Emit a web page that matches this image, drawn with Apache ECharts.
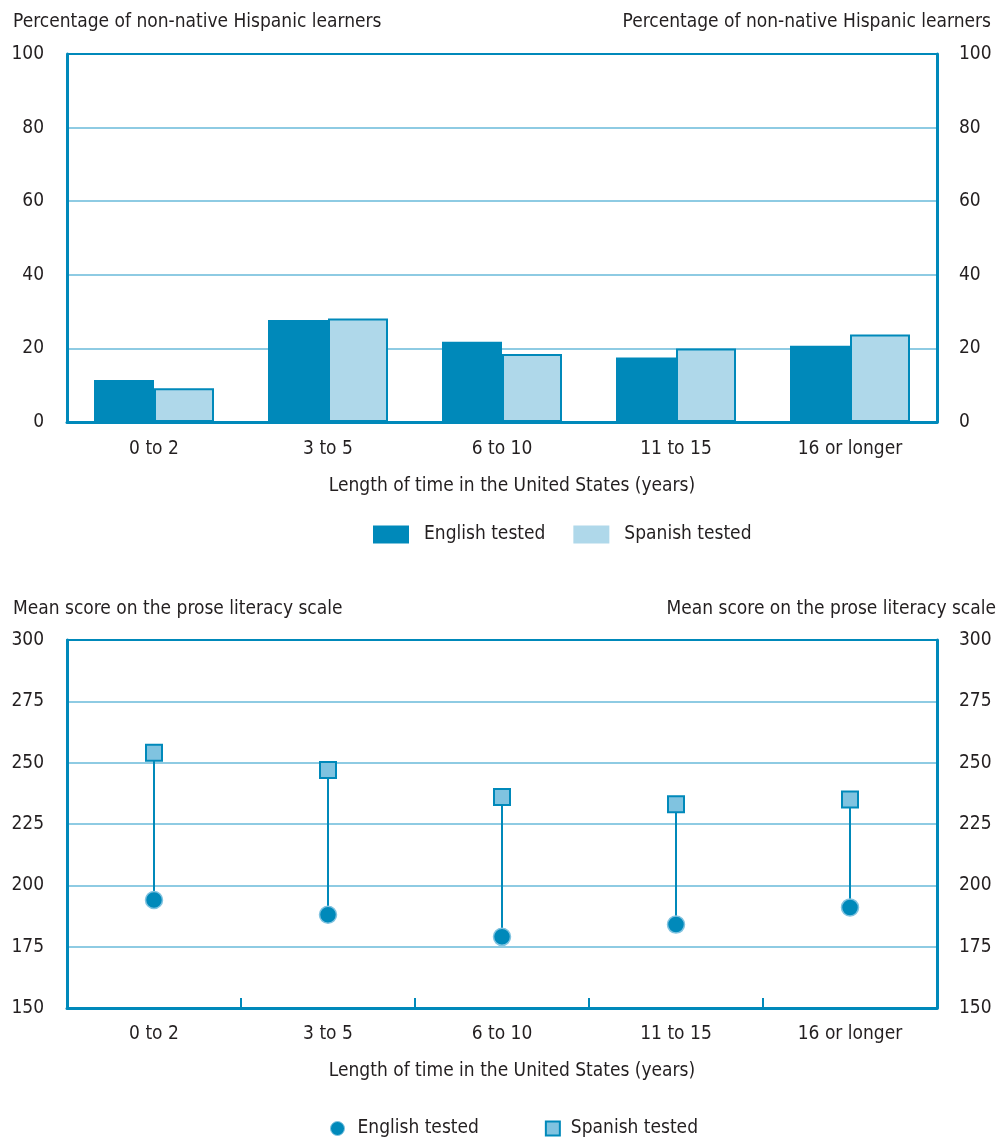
<!DOCTYPE html>
<html><head><meta charset="utf-8">
<script src="https://cdn.jsdelivr.net/npm/echarts@6/dist/echarts.min.js"></script>
<style>html,body{margin:0;padding:0;background:#fff}#c{width:1006px;height:1139px}</style>
</head><body><div id="c"></div>
<script>
var categories = ['0 to 2', '3 to 5', '6 to 10', '11 to 15', '16 or longer'];
var pctEnglish = [11.4, 27.7, 21.8, 17.5, 20.7];
var pctSpanish = [9.2, 28.1, 18.5, 20.0, 23.8];
var scoreEnglish = [194, 188, 179, 184, 191];
var scoreSpanish = [254, 247, 236, 233, 235];
var pctTicks = {min: 0, max: 100, interval: 20};
var scoreTicks = {min: 150, max: 300, interval: 25};

var DARK = '#0089BA', LIGHT = '#AFD8EA', SQ = '#80C3E0', GRIDC = '#8ECBE3', TXT = '#231F20';
var FONT = "'Liberation Sans Narrow','DejaVu Sans Condensed',sans-serif";
var FS = 19;

function yAx(grid, pos, t) {
  var n = Math.round((t.max - t.min) / t.interval) + 1;
  var cols = [];
  for (var i = 0; i < n; i++) cols.push(i === n - 1 ? DARK : GRIDC);
  return {type: 'value', gridIndex: grid, position: pos, min: t.min, max: t.max, interval: t.interval,
    axisLine: {show: true, lineStyle: {color: DARK, width: 3}}, axisTick: {show: false},
    axisLabel: {color: TXT, fontSize: FS, fontFamily: FONT, margin: pos === 'left' ? 23 : 22},
    splitLine: {show: pos === 'left', lineStyle: {color: cols, width: 2}}};
}
function xAx(grid, ticks, gap, margin) {
  return {type: 'category', gridIndex: grid, data: categories, boundaryGap: true,
    axisLine: {show: true, onZero: false, lineStyle: {color: DARK, width: 3}},
    axisTick: {show: ticks, inside: true, length: 10, lineStyle: {color: DARK, width: 2}},
    axisLabel: {color: TXT, fontSize: FS, fontFamily: FONT, margin: margin},
    name: 'Length of time in the United States (years)', nameLocation: 'middle', nameGap: gap,
    nameTextStyle: {color: TXT, fontSize: FS, fontFamily: FONT, padding: [0, 0, 0, 20]}};
}
function topAx(grid) {
  return {type: 'category', gridIndex: grid, position: 'top', data: categories, z: 10,
    axisLine: {show: true, lineStyle: {color: DARK, width: 2}}, axisTick: {show: false}, axisLabel: {show: false}};
}

var opt = {
  animation: false,
  textStyle: {fontFamily: FONT},
  title: [
    {text: 'Percentage of non-native Hispanic learners', left: 8, top: 8, textStyle: {color: TXT, fontSize: FS, fontWeight: 'normal', fontFamily: FONT}},
    {text: 'Percentage of non-native Hispanic learners', right: 10, top: 8, textStyle: {color: TXT, fontSize: FS, fontWeight: 'normal', fontFamily: FONT}},
    {text: 'Mean score on the prose literacy scale', left: 8, top: 595, textStyle: {color: TXT, fontSize: FS, fontWeight: 'normal', fontFamily: FONT}},
    {text: 'Mean score on the prose literacy scale', right: 5, top: 595, textStyle: {color: TXT, fontSize: FS, fontWeight: 'normal', fontFamily: FONT}}
  ],
  grid: [
    {left: 67, width: 870, top: 54, height: 368},
    {left: 67, width: 870, top: 640, height: 368}
  ],
  xAxis: [xAx(0, false, 55, 18), xAx(1, true, 54, 17), topAx(0), topAx(1)],
  yAxis: [yAx(0, 'left', pctTicks), yAx(0, 'right', pctTicks), yAx(1, 'left', scoreTicks), yAx(1, 'right', scoreTicks)],
  legend: [
    {left: 368, top: 520, itemWidth: 36, itemHeight: 18, itemGap: 28,
      textStyle: {color: TXT, fontSize: FS, fontFamily: FONT, padding: [0, 0, 0, 10]},
      data: [{name: 'English tested', icon: 'rect', itemStyle: {color: DARK, borderWidth: 0}},
             {name: 'Spanish tested', icon: 'rect', itemStyle: {color: LIGHT, borderWidth: 0}}]},
    {left: 325, top: 1114, itemWidth: 14, itemHeight: 14, itemGap: 66,
      textStyle: {color: TXT, fontSize: FS, fontFamily: FONT, padding: [0, 0, 0, 8]},
      data: [{name: 'English tested', icon: 'circle', itemStyle: {color: DARK, borderColor: SQ, borderWidth: 1}},
             {name: 'Spanish tested', icon: 'rect', itemStyle: {color: SQ, borderColor: DARK, borderWidth: 2}, textStyle: {padding: [0, 0, 0, 6]}}]}
  ],
  series: [
    {name: 'English tested', type: 'bar', xAxisIndex: 0, yAxisIndex: 0, data: pctEnglish, barWidth: 60, barGap: '0%',
      itemStyle: {color: DARK}},
    {name: 'Spanish tested', type: 'bar', xAxisIndex: 0, yAxisIndex: 0, data: pctSpanish, barWidth: 60, barGap: '0%',
      itemStyle: {color: LIGHT, borderColor: DARK, borderWidth: 2}},
    {type: 'custom', xAxisIndex: 1, yAxisIndex: 2, z: 1, silent: true,
      data: categories.map(function (c, i) { return [i, scoreEnglish[i], scoreSpanish[i]]; }),
      renderItem: function (params, api) {
        var a = api.coord([api.value(0), api.value(1)]);
        var b = api.coord([api.value(0), api.value(2)]);
        return {type: 'line', shape: {x1: a[0], y1: a[1], x2: b[0], y2: b[1]}, style: {stroke: DARK, lineWidth: 2}};
      }},
    {name: 'English tested', type: 'scatter', xAxisIndex: 1, yAxisIndex: 2, z: 3, data: scoreEnglish, symbol: 'circle', symbolSize: 17,
      itemStyle: {color: DARK, borderColor: SQ, borderWidth: 1.5, opacity: 1}},
    {name: 'Spanish tested', type: 'scatter', xAxisIndex: 1, yAxisIndex: 2, z: 3, data: scoreSpanish, symbol: 'rect', symbolSize: 16,
      itemStyle: {color: SQ, borderColor: DARK, borderWidth: 2, opacity: 1}}
  ]
};
var ch = echarts.init(document.getElementById('c'));
ch.setOption(opt);
</script></body></html>
